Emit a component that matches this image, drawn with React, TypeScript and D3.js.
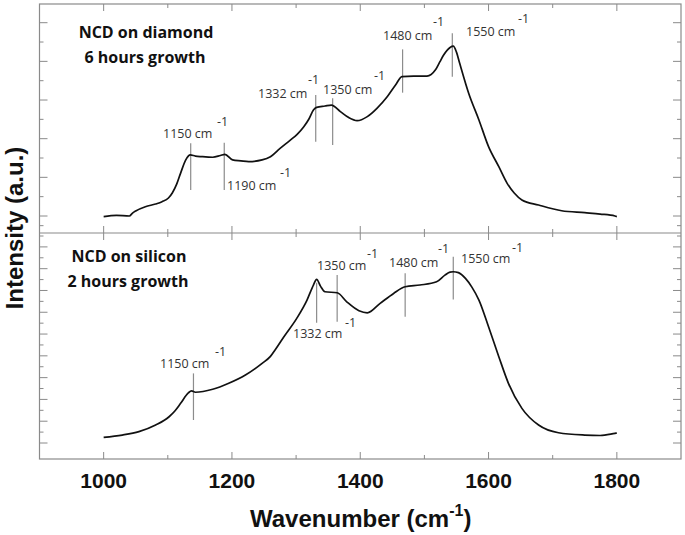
import React from "react";
import * as d3 from "d3";

// ---------- DATA ----------
// Top spectrum: NCD on diamond, 6 hours growth (wavenumber, intensity a.u.)
const topWave = [1000, 1020, 1040, 1045, 1050, 1065, 1081, 1091, 1101, 1107, 1114, 1120, 1128, 1135, 1143, 1153, 1170, 1182, 1189, 1201, 1214, 1226, 1247, 1260, 1275, 1291, 1302, 1312, 1320, 1327, 1332, 1345, 1355, 1369, 1382, 1395, 1411, 1426, 1442, 1455, 1465, 1483, 1504, 1517, 1524, 1530, 1540, 1545, 1550, 1555, 1569, 1585, 1600, 1616, 1629, 1640, 1652, 1678, 1714, 1750, 1774, 1797, 1800];
const topInt = [-0.03, 0.03, 0.0, 0.15, 0.26, 0.48, 0.62, 0.74, 0.93, 1.19, 1.66, 2.22, 2.9, 3.16, 3.1, 3.07, 3.04, 3.13, 3.19, 2.9, 2.85, 2.81, 2.9, 3.07, 3.5, 3.93, 4.24, 4.62, 5.02, 5.48, 5.62, 5.69, 5.74, 5.4, 5.09, 4.93, 5.14, 5.57, 6.17, 6.78, 7.21, 7.24, 7.24, 7.55, 7.97, 8.33, 8.72, 8.79, 8.48, 7.9, 6.35, 4.97, 3.59, 2.55, 1.69, 1.19, 0.83, 0.57, 0.27, 0.17, 0.1, 0.0, -0.03];

// Bottom spectrum: NCD on silicon, 2 hours growth
const botWave = [1000, 1029, 1055, 1081, 1102, 1111, 1120, 1132, 1137, 1143, 1170, 1195, 1221, 1247, 1260, 1268, 1281, 1301, 1317, 1327, 1332, 1338, 1345, 1364, 1379, 1398, 1411, 1431, 1452, 1470, 1493, 1519, 1532, 1540, 1545, 1553, 1564, 1574, 1585, 1600, 1616, 1631, 1652, 1678, 1709, 1750, 1774, 1797, 1800];
const botInt = [0.52, 0.73, 1.04, 1.65, 2.41, 2.94, 3.64, 4.6, 4.78, 4.66, 4.93, 5.48, 6.24, 7.31, 7.95, 8.6, 9.75, 11.44, 13.12, 14.5, 15.02, 14.4, 13.88, 13.79, 12.96, 12.14, 11.95, 12.82, 13.73, 14.34, 14.5, 14.8, 15.41, 15.69, 15.72, 15.64, 15.11, 14.31, 13.12, 10.67, 7.92, 5.48, 3.18, 1.65, 0.94, 0.73, 0.69, 0.89, 0.92];

// Peak markers (wavenumber position, intensity from, intensity to)
const topMarkWave = [1135.7, 1188, 1330.6, 1357, 1466, 1543.5];
const topMarkLow = [1.34, 1.34, 3.84, 3.67, 6.38, 7.21];
const topMarkHigh = [3.77, 3.79, 6.26, 6.09, 8.62, 9.45];
const topPeakLabels = ["1150 cm", "1190 cm", "1332 cm", "1350 cm", "1480 cm", "1550 cm"];

const botMarkWave = [1140, 1332, 1364, 1470, 1545];
const botMarkLow = [2.11, 11.04, 11.13, 11.59, 13.18];
const botMarkHigh = [6.39, 14.7, 15.41, 15.57, 17.09];
const botPeakLabels = ["1150 cm", "1332 cm", "1350 cm", "1480 cm", "1550 cm"];

const xTickValues = [1000, 1100, 1200, 1300, 1400, 1500, 1600, 1700, 1800];
const xTickLabels = ["1000", "1200", "1400", "1600", "1800"];
const topYTicks = [-0.5, 0, 1, 2, 3, 4, 5, 6, 7, 8, 9, 10];
const botYTicks = d3.range(0, 20);

// ---------- LAYOUT ----------
const W = 685, H = 535;
const L = 39.5, R = 681, T = 4, MID = 233, B = 459;
// label layout: [textX, textBaseline, supX, supBaseline]
const topLabelPos = [[163, 138, 217, 126], [227, 190, 280, 177], [258, 98, 308, 84], [323, 94, 374, 80], [383, 40, 433, 26], [466, 36, 518, 23]];
const botLabelPos = [[160, 368, 215, 356], [293, 338, 345, 327], [317, 270, 367, 258], [389, 267, 438, 253], [461, 263, 512, 252]];

export default function App() {
  const x = d3.scaleLinear().domain([900, 1900]).range([L, R]);
  const yTop = d3.scaleLinear().domain([0, 10]).range([216, 22.7]);
  const yBot = d3.scaleLinear().domain([0, 19]).range([443, 236]);

  const lineTop = d3.line<number>().x((_, i) => x(topWave[i])).y((d) => yTop(d)).curve(d3.curveMonotoneX);
  const lineBot = d3.line<number>().x((_, i) => x(botWave[i])).y((d) => yBot(d)).curve(d3.curveMonotoneX);

  const frame = "#8a8a8a";
  const labelFont = "'Open Sans', sans-serif";
  const axisFont = "'Liberation Sans', Arial, sans-serif";

  const xTicks = (yEdge: number, dir: number, key: string) =>
    xTickValues.map((v) => {
      const len = v % 200 === 0 ? 7 : 4;
      return <line key={key + v} x1={x(v)} x2={x(v)} y1={yEdge} y2={yEdge + dir * len} stroke={frame} strokeWidth={1} />;
    });

  const yTicks = (vals: number[], sc: any, key: string) =>
    vals.map((v) => {
      const len = Number.isInteger(v) && v % 2 === 0 ? 8 : 4;
      return (
        <g key={key + v}>
          <line x1={L} x2={L + len} y1={sc(v)} y2={sc(v)} stroke={frame} strokeWidth={1} />
          <line x1={R} x2={R - len} y1={sc(v)} y2={sc(v)} stroke={frame} strokeWidth={1} />
        </g>
      );
    });

  return (
    <svg width={W} height={H} style={{ position: "absolute", left: 0, top: 0, background: "#fff" }}>
      <rect x={0} y={0} width={W} height={H} fill="#fff" />
      {/* frame */}
      <rect x={L} y={T} width={R - L} height={B - T} fill="none" stroke={frame} strokeWidth={1.2} />
      <line x1={L} x2={R} y1={MID} y2={MID} stroke={frame} strokeWidth={1.2} />
      {xTicks(T, 1, "tt")}
      {xTicks(MID, -1, "tb")}
      {xTicks(MID, 1, "bt")}
      {xTicks(B, -1, "bb")}
      {yTicks(topYTicks, yTop, "yt")}
      {yTicks(botYTicks, yBot, "yb")}

      {/* markers */}
      {topMarkWave.map((w, i) => (
        <line key={"tm" + i} x1={x(w)} x2={x(w)} y1={yTop(topMarkLow[i])} y2={yTop(topMarkHigh[i])} stroke="#8c8c8c" strokeWidth={1.2} />
      ))}
      {botMarkWave.map((w, i) => (
        <line key={"bm" + i} x1={x(w)} x2={x(w)} y1={yBot(botMarkLow[i])} y2={yBot(botMarkHigh[i])} stroke="#8c8c8c" strokeWidth={1.2} />
      ))}

      {/* spectra */}
      <path d={lineTop(topInt) || ""} fill="none" stroke="#111" strokeWidth={1.7} strokeLinejoin="round" />
      <path d={lineBot(botInt) || ""} fill="none" stroke="#111" strokeWidth={1.7} strokeLinejoin="round" />

      {/* peak labels */}
      {topPeakLabels.map((t, i) => (
        <g key={"tl" + i} fontFamily={labelFont} fontSize={12.5} fill="#333">
          <text x={topLabelPos[i][0]} y={topLabelPos[i][1]}>{t}</text>
          <text x={topLabelPos[i][2]} y={topLabelPos[i][3]}>-1</text>
        </g>
      ))}
      {botPeakLabels.map((t, i) => (
        <g key={"bl" + i} fontFamily={labelFont} fontSize={12.5} fill="#333">
          <text x={botLabelPos[i][0]} y={botLabelPos[i][1]}>{t}</text>
          <text x={botLabelPos[i][2]} y={botLabelPos[i][3]}>-1</text>
        </g>
      ))}

      {/* panel titles */}
      <g fontFamily={labelFont} fontWeight="bold" fontSize={16} fill="#111" textAnchor="middle">
        <text x={146} y={38}>NCD on diamond</text>
        <text x={145} y={63}>6 hours growth</text>
        <text x={129} y={262}>NCD on silicon</text>
        <text x={128} y={287}>2 hours growth</text>
      </g>

      {/* x tick labels */}
      <g fontFamily={axisFont} fontWeight="bold" fontSize={21} fill="#111" textAnchor="middle">
        {xTickLabels.map((t) => (
          <text key={t} x={x(+t)} y={488}>{t}</text>
        ))}
      </g>

      {/* axis titles */}
      <text x={250} y={527} fontFamily={axisFont} fontWeight="bold" fontSize={24} fill="#111">
        Wavenumber (cm
        <tspan dy={-11} fontSize={16}>-1</tspan>
        <tspan dy={11}>)</tspan>
      </text>
      <text transform={`translate(23,228) rotate(-90)`} textAnchor="middle" fontFamily={axisFont} fontWeight="bold" fontSize={24} fill="#111">
        Intensity (a.u.)
      </text>
    </svg>
  );
}
